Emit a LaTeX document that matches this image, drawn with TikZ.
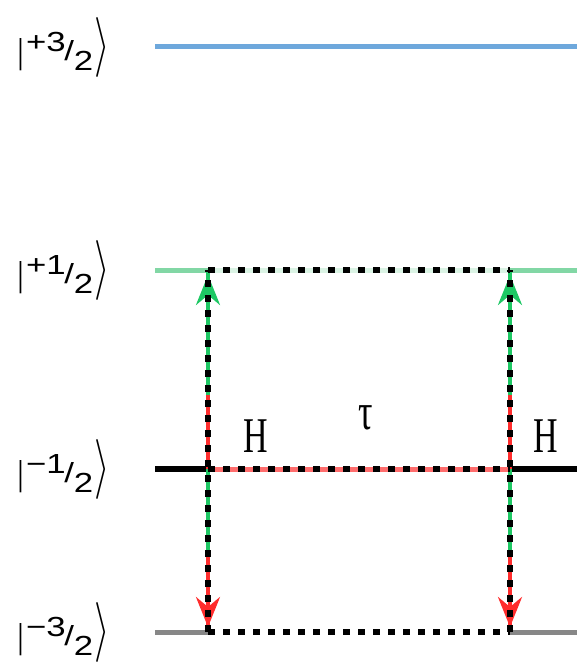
\documentclass[tikz,border=0pt]{standalone}
\usepackage{fontspec}
\setmainfont{Liberation Serif}
\setsansfont{Liberation Sans}
\usetikzlibrary{arrows.meta}
\definecolor{lblue}{RGB}{110,168,220}
\definecolor{lgreen}{RGB}{130,215,165}
\definecolor{vgreen}{RGB}{30,200,100}
\definecolor{vred}{RGB}{255,45,45}
\definecolor{pinkred}{RGB}{255,110,110}
\definecolor{lgray}{RGB}{135,135,135}
\newcommand{\myket}[1]{\scalebox{1.45}[1.15]{\fontsize{24}{24}\selectfont\sffamily
  \raisebox{-2pt}{\scalebox{0.6}[1.25]{\textbar}}\kern2pt\raisebox{8pt}{#1}\kern-1pt/\raisebox{-8pt}{2}\kern1pt\raisebox{-1pt}{\scalebox{1.1}[2.1]{$\rangle$}}}}
\tikzset{
  level/.style={line width=5pt},
  dotsline/.style={line width=5.5pt, black, dash pattern=on 7pt off 8pt},
  ketlabel/.style={inner sep=0pt, anchor=center},
  bigletter/.style={inner sep=0pt, font=\fontsize{40}{40}\selectfont},
}
\begin{document}
\begin{tikzpicture}[x=1pt,y=-1pt]
\useasboundingbox (0,0) rectangle (577,668);
% coordinates
\coordinate (L3s) at (155,47);  \coordinate (L3e) at (577,47);
\coordinate (L1s) at (155,270); \coordinate (A1) at (208,270); \coordinate (B1) at (510,270); \coordinate (L1e) at (577,270);
\coordinate (M1s) at (155,469); \coordinate (A2) at (208,469); \coordinate (B2) at (510,469); \coordinate (M1e) at (577,469);
\coordinate (M3s) at (155,632); \coordinate (A3) at (208,632); \coordinate (B3) at (510,632); \coordinate (M3e) at (577,632);
% levels
\draw[level, lblue] (L3s) -- (L3e);
\draw[level, lgreen] (L1s) -- (A1);
\draw[level, lgreen] (B1) -- (L1e);
\draw[level, lgreen!30] (A1) -- (B1);
\draw[level, line width=6pt, black] (M1s) -- (A2);
\draw[level, line width=6pt, black] (B2) -- (M1e);
\draw[level, pinkred] (A2) -- (B2);
\draw[level, lgray] (M3s) -- (A3);
\draw[level, lgray] (B3) -- (M3e);
% vertical coloured segments
\foreach \x/\n in {208/a,510/b}{
  \coordinate (\n g1) at (\x,272);
  \coordinate (\n r1) at (\x,395);
  \coordinate (\n g2) at (\x,469);
  \coordinate (\n r2) at (\x,555);
  \coordinate (\n e) at (\x,630);
  \draw[line width=4pt, vgreen] (\n g1) -- (\n r1);
  \draw[line width=4pt, vred] (\n r1) -- (\n g2);
  \draw[line width=4pt, vgreen] (\n g2) -- (\n r2);
  \draw[line width=4pt, vred] (\n r2) -- (\n e);
  \draw[line width=4pt, vgreen, -{Stealth[length=30pt,width=24pt,inset=10pt]}] (\x,320) -- (\x,275);
  \draw[line width=4pt, vred, -{Stealth[length=30pt,width=24pt,inset=10pt]}] (\x,580) -- (\x,627);
}
% black dots
\draw[dotsline] (A1) -- (B1);
\draw[dotsline] (A2) -- (B2);
\draw[dotsline] (A3) -- (B3);
\draw[dotsline] (A3) -- (A1);
\draw[dotsline] (B3) -- (B1);
% labels
\node[ketlabel] (k3) at (64,47) {\myket{+3}};
\node[ketlabel] (k1) at (64,270) {\myket{+1}};
\node[ketlabel] (km1) at (64,469) {\myket{\textminus 1}};
\node[ketlabel] (km3) at (64,632) {\myket{\textminus 3}};
\node[bigletter] (H1) at (256,436) {\scalebox{0.85}[1.25]{H}};
\node[bigletter] (H2) at (546,436) {\scalebox{0.85}[1.25]{H}};
\node[bigletter] (tau) at (366,418) {\scalebox{0.9}[1.3]{τ}};
\end{tikzpicture}
\end{document}
